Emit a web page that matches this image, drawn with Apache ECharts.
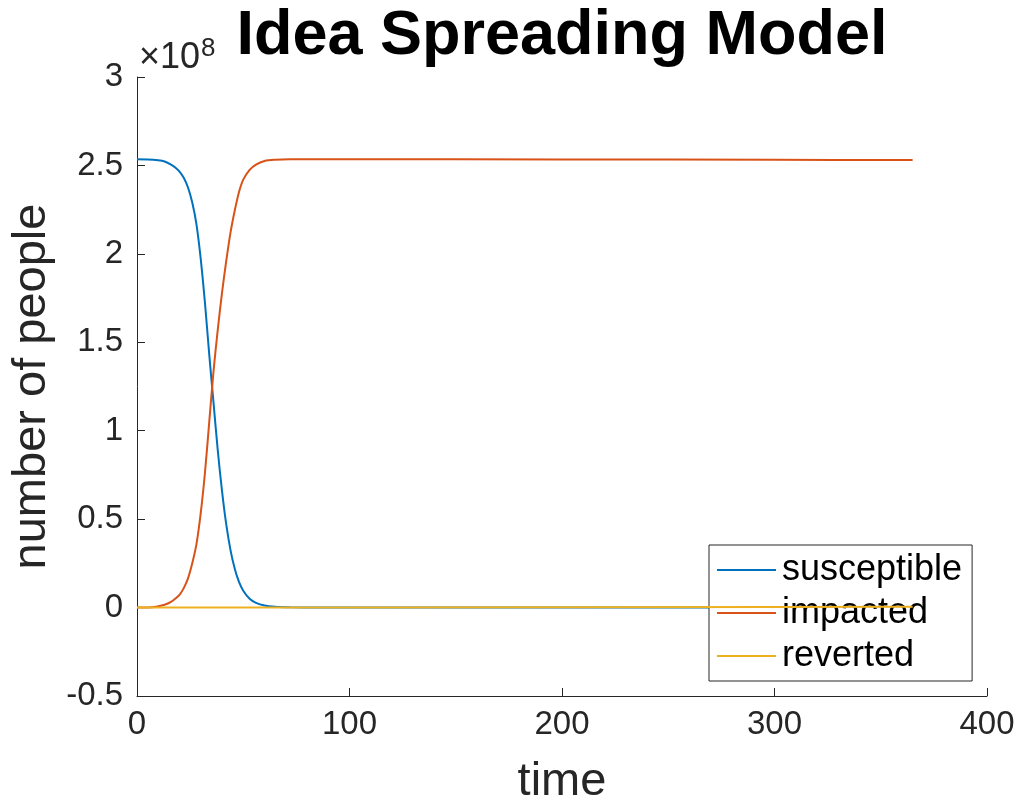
<!DOCTYPE html>
<html>
<head>
<meta charset="utf-8">
<script src="https://cdn.jsdelivr.net/npm/echarts@6/dist/echarts.min.js"></script>
<style>
  html, body { margin: 0; padding: 0; background: #ffffff; overflow: hidden; }
  #chart { width: 1018px; height: 798px; }
</style>
</head>
<body>
<div id="chart"></div>
<script>
// Values are in units of 10^8 people
const susceptibleTime = [0, 5, 10, 13, 16, 18, 20, 22, 24, 26, 28, 30, 32, 34, 36, 38, 40, 42, 44, 46, 48, 50, 53, 56, 60, 65, 72, 85, 100, 200, 300, 365];
const susceptibleValues = [2.535, 2.534, 2.529, 2.522, 2.505, 2.488, 2.465, 2.43, 2.375, 2.29, 2.165, 1.97, 1.72, 1.43, 1.16, 0.89, 0.66, 0.47, 0.325, 0.22, 0.145, 0.095, 0.05, 0.027, 0.012, 0.005, 0.002, 0.0005, 0, 0, 0, 0];

const impactedTime = [0, 5, 9, 13, 16, 18, 20, 22, 24, 26, 28, 30, 32, 34, 36, 38, 40, 42, 44, 46, 48, 50, 53, 56, 60, 65, 72, 100, 200, 300, 365];
const impactedValues = [0, 0.001, 0.005, 0.016, 0.032, 0.05, 0.072, 0.11, 0.165, 0.25, 0.36, 0.535, 0.765, 1.05, 1.335, 1.57, 1.78, 1.96, 2.12, 2.245, 2.35, 2.42, 2.475, 2.505, 2.525, 2.532, 2.535, 2.535, 2.534, 2.532, 2.530];

const revertedTime = [0, 100, 200, 300, 365];
const revertedValues = [0, 0.001, 0.002, 0.003, 0.004];

const seriesNames = ['susceptible', 'impacted', 'reverted'];
const xTicks = { min: 0, max: 400, interval: 100 };
const yTicks = { min: -0.5, max: 3, interval: 0.5 };

const FONT = '"Liberation Sans", Helvetica, Arial, sans-serif';
const AXIS_COLOR = '#262626';
const COLORS = ['#0072BD', '#D95319', '#EDB120'];

function zip(t, v) { return t.map((x, i) => [x, v[i]]); }

const chart = echarts.init(document.getElementById('chart'), null, { renderer: 'canvas' });
chart.setOption({
  animation: false,
  backgroundColor: '#ffffff',
  color: COLORS,
  title: {
    text: 'Idea Spreading Model',
    left: 562,
    textAlign: 'center',
    top: 5,
    padding: 0,
    textStyle: { fontFamily: FONT, fontWeight: 'bold', fontSize: 63, color: '#000000' }
  },
  grid: { left: 137, top: 77, width: 850, height: 619, containLabel: false, outerBoundsMode: 'none' },
  xAxis: {
    type: 'value',
    min: xTicks.min, max: xTicks.max, interval: xTicks.interval,
    name: 'time',
    nameLocation: 'middle',
    nameGap: 63,
    nameTextStyle: { fontFamily: FONT, fontSize: 47, color: AXIS_COLOR },
    axisLine: { show: true, onZero: false, lineStyle: { color: AXIS_COLOR, width: 1 } },
    axisTick: { show: true, inside: true, length: 8, lineStyle: { color: AXIS_COLOR } },
    axisLabel: { fontFamily: FONT, fontSize: 33, color: AXIS_COLOR, margin: 12, showMinLabel: true, showMaxLabel: true },
    splitLine: { show: false }
  },
  yAxis: {
    type: 'value',
    min: yTicks.min, max: yTicks.max, interval: yTicks.interval,
    name: 'number of people',
    nameLocation: 'middle',
    nameRotate: 90,
    nameGap: 77,
    nameTextStyle: { fontFamily: FONT, fontSize: 47, color: AXIS_COLOR },
    axisLine: { show: true, onZero: false, lineStyle: { color: AXIS_COLOR, width: 1 } },
    axisTick: { show: true, inside: true, length: 8, lineStyle: { color: AXIS_COLOR } },
    axisLabel: { fontFamily: FONT, fontSize: 33, color: AXIS_COLOR, margin: 14, showMinLabel: true, showMaxLabel: true },
    splitLine: { show: false }
  },
  legend: {
    orient: 'vertical',
    left: 709,
    top: 545,
    padding: [7, 10, 7, 8],
    itemGap: 7,
    itemWidth: 59,
    itemHeight: 2,
    icon: 'rect',
    backgroundColor: '#ffffff',
    borderColor: AXIS_COLOR,
    borderWidth: 1,
    borderRadius: 0,
    data: seriesNames,
    textStyle: { fontFamily: FONT, fontSize: 36, lineHeight: 36, color: '#000000', padding: [0, 0, 0, 1] }
  },
  graphic: [{
    type: 'text',
    left: 139,
    top: 36,
    style: {
      text: '{a|×10}{b|8}',
      rich: {
        a: { fontFamily: FONT, fontSize: 36, fill: AXIS_COLOR, verticalAlign: 'bottom' },
        b: { fontFamily: FONT, fontSize: 26, fill: AXIS_COLOR, verticalAlign: 'top', padding: [0, 0, 14, 1] }
      }
    }
  }],
  series: [
    { name: seriesNames[0], type: 'line', data: zip(susceptibleTime, susceptibleValues), showSymbol: false, symbol: 'none', smooth: 0.3, lineStyle: { width: 2 }, z: 2 },
    { name: seriesNames[1], type: 'line', data: zip(impactedTime, impactedValues), showSymbol: false, symbol: 'none', smooth: 0.3, lineStyle: { width: 2 }, z: 3 },
    { name: seriesNames[2], type: 'line', data: zip(revertedTime, revertedValues), showSymbol: false, symbol: 'none', smooth: false, lineStyle: { width: 2 }, z: 4 }
  ]
});
</script>
</body>
</html>
